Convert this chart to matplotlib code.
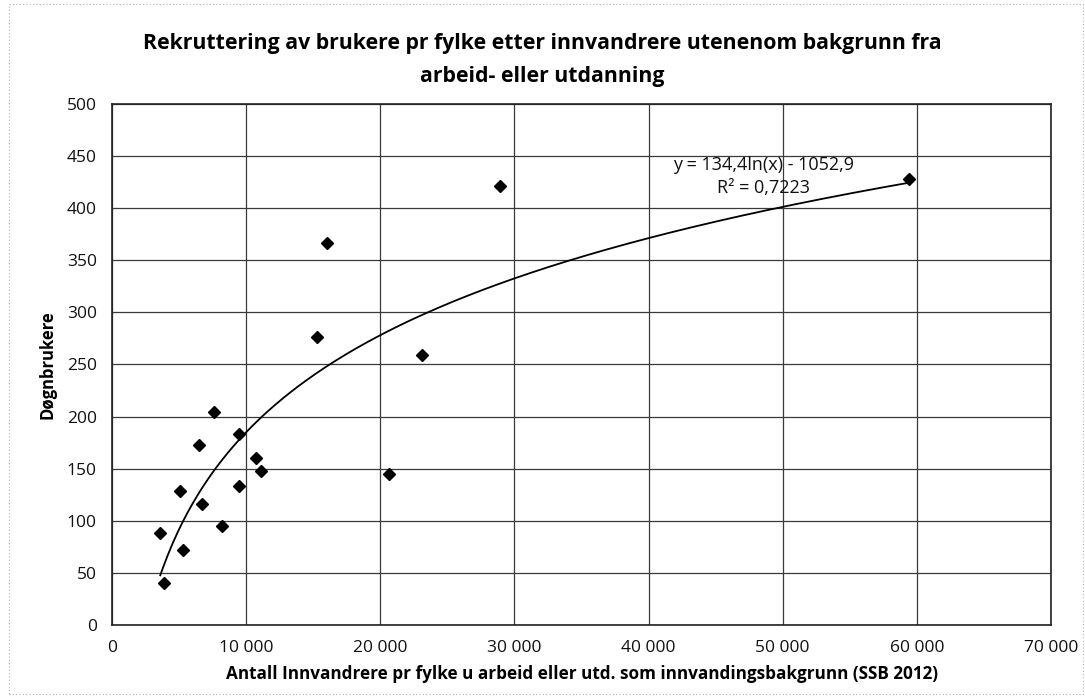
import numpy as np
import matplotlib.pyplot as plt
from matplotlib.ticker import FuncFormatter, MultipleLocator
from matplotlib.patches import Rectangle

# innvandrere u arbeid/utd. pr fylke vs. døgnbrukere
innvandrere = [3600, 3900, 5100, 5300, 6500, 6700, 7600, 8200, 9450, 9500,
               10700, 11100, 15300, 16000, 20650, 23100, 28900, 59400]
dognbrukere = [88, 40, 129, 72, 173, 116, 204, 95, 133, 183,
               160, 148, 276, 367, 145, 259, 421, 428]

# logaritmisk trendlinje som vist i diagrammet
trend_a = 134.4
trend_b = -1052.9
trend_label = "y = 134,4ln(x) - 1052,9\nR\u00b2 = 0,7223"

title = "Rekruttering av brukere pr fylke etter innvandrere utenenom bakgrunn fra\narbeid- eller utdanning"
xlabel = "Antall Innvandrere pr fylke u arbeid eller utd. som innvandingsbakgrunn (SSB 2012)"
ylabel = "Døgnbrukere"

plt.rcParams['font.family'] = ['Open Sans', 'DejaVu Sans']

fig = plt.figure(figsize=(10.85, 6.97), dpi=100)
ax = fig.add_axes([0.1032, 0.1033, 0.8655, 0.7475])

# dotted frame around the whole chart area
fig.patches.append(Rectangle((0.008, 0.004), 0.99, 0.99, transform=fig.transFigure,
                             fill=False, ec='#b0b0b0', lw=0.8, ls=(0, (1, 2))))

ax.set_xlim(0, 70000)
ax.set_ylim(0, 500)
ax.xaxis.set_major_locator(MultipleLocator(10000))
ax.yaxis.set_major_locator(MultipleLocator(50))
ax.xaxis.set_major_formatter(FuncFormatter(lambda v, p: f"{int(v):,}".replace(",", " ")))
ax.grid(True, color='#3a3a3a', lw=0.9)
ax.set_axisbelow(True)
for s in ax.spines.values():
    s.set_color('#222222')
    s.set_linewidth(1.2)
ax.tick_params(length=0, labelsize=12.5, pad=11, colors='#111111')

xs = np.linspace(min(innvandrere), max(innvandrere), 300)
ax.plot(xs, trend_a * np.log(xs) + trend_b, color='black', lw=1.3)
ax.plot(innvandrere, dognbrukere, 'D', color='black', markersize=6.5, ls='none')

ax.text(48600, 430, trend_label, ha='center', va='center', fontsize=13,
        linespacing=1.35, color='#111111')

ax.set_xlabel(xlabel, fontsize=12.3, fontweight='bold', labelpad=6)
ax.set_ylabel(ylabel, fontsize=12, fontweight='bold', labelpad=7)
fig.suptitle(title, fontsize=15.3, fontweight='bold', y=0.952, linespacing=1.7)

fig.savefig('out.png', dpi=100)
